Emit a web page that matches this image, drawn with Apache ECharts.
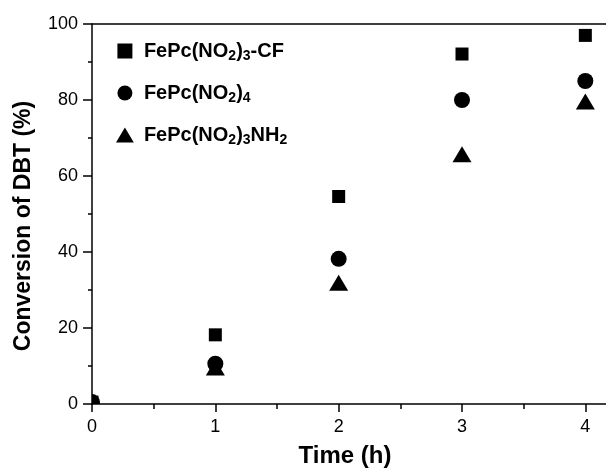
<!DOCTYPE html>
<html>
<head>
<meta charset="utf-8">
<script src="https://cdn.jsdelivr.net/npm/echarts@6/dist/echarts.min.js"></script>
<style>
html,body{margin:0;padding:0;background:#fff;}
#chart{width:606px;height:473px;}
</style>
</head>
<body>
<div id="chart"></div>
<script>
// ---- data ----
const times = [0, 1, 2, 3, 4];
const seriesNames = ['FePc(NO2)3-CF', 'FePc(NO2)4', 'FePc(NO2)3NH2'];
const cfValues = [0.5, 18.2, 54.6, 92.1, 97.0];
const no2Values = [0.5, 10.6, 38.2, 80.0, 85.0];
const nh2Values = [0.5, 9.5, 31.8, 65.6, 79.5];
const xTicks = [0, 1, 2, 3, 4];
const yTicks = [0, 20, 40, 60, 80, 100];

const legendRich = {
  'FePc(NO2)3-CF': 'FePc(NO{s|2}){s|3}-CF',
  'FePc(NO2)4': 'FePc(NO{s|2}){s|4}',
  'FePc(NO2)3NH2': 'FePc(NO{s|2}){s|3}NH{s|2}'
};

const FONT = "'Liberation Sans', Arial, sans-serif";
const X_MAX = 4.2;

function pairs(vals) { return times.map((t, i) => [t, vals[i]]); }

function makeRender(shape) {
  return function (params, api) {
    const p = api.coord([api.value(0), api.value(1)]);
    const style = { fill: '#000' };
    if (shape === 'square') {
      return { type: 'rect', shape: { x: p[0] - 6.5, y: p[1] - 6.5, width: 13, height: 13 }, style };
    } else if (shape === 'circle') {
      return { type: 'circle', shape: { cx: p[0], cy: p[1], r: 8 }, style };
    } else {
      return { type: 'polygon', shape: { points: [[p[0], p[1] - 8.5], [p[0] + 9.5, p[1] + 7.5], [p[0] - 9.5, p[1] + 7.5]] }, style };
    }
  };
}

const lineStyle = { color: '#000', width: 1.5 };

const chart = echarts.init(document.getElementById('chart'), null, { renderer: 'canvas' });
chart.setOption({
  animation: false,
  backgroundColor: '#fff',
  grid: { left: 92, top: 24, width: 518, height: 380, containLabel: false, outerBoundsMode: 'none' },
  legend: {
    orient: 'vertical',
    left: 111,
    top: 34,
    itemWidth: 28,
    itemHeight: 15,
    itemGap: 18,
    selectedMode: false,
    data: [
      { name: seriesNames[0], icon: 'path://M0,0h13v13h-13z' },
      { name: seriesNames[1], icon: 'circle' },
      { name: seriesNames[2], icon: 'path://M9.5,0L19,16L0,16Z' }
    ],
    itemStyle: { color: '#000' },
    formatter: function (name) { return legendRich[name]; },
    textStyle: {
      fontFamily: FONT, fontSize: 20, fontWeight: 'bold', color: '#000', lineHeight: 24,
      rich: {
        s: { fontFamily: FONT, fontSize: 14, fontWeight: 'bold', color: '#000', lineHeight: 10, verticalAlign: 'bottom' }
      }
    }
  },
  xAxis: [{
    type: 'value', min: 0, max: X_MAX, interval: 1,
    name: 'Time (h)', nameLocation: 'middle', nameGap: 40,
    nameTextStyle: { fontFamily: FONT, fontSize: 24, fontWeight: 'bold', color: '#000', padding: [0, 12, 0, 0] },
    axisLine: { show: true, onZero: false, lineStyle },
    axisTick: { show: true, inside: false, length: 8, lineStyle },
    axisLabel: {
      fontFamily: FONT, fontSize: 18, color: '#000', margin: 14, showMaxLabel: false,
      formatter: function (v) { return xTicks.indexOf(v) >= 0 ? String(v) : ''; }
    },
    splitLine: { show: false }
  }, {
    // half-step ticks along the bottom axis
    type: 'value', min: 0, max: X_MAX, interval: 0.5, position: 'bottom',
    axisLine: { show: false },
    axisTick: { show: true, inside: false, length: 5, lineStyle },
    axisLabel: { show: false }, splitLine: { show: false }
  }, {
    type: 'value', min: 0, max: X_MAX, position: 'top',
    axisLine: { show: true, onZero: false, lineStyle },
    axisTick: { show: false }, axisLabel: { show: false }, splitLine: { show: false }
  }],
  yAxis: {
    type: 'value', min: 0, max: 100, interval: 20,
    name: 'Conversion of DBT (%)', nameLocation: 'middle', nameGap: 57,
    nameTextStyle: { fontFamily: FONT, fontSize: 23, fontWeight: 'bold', color: '#000', padding: [0, 24, 0, 0] },
    axisLine: { show: true, onZero: false, lineStyle },
    axisTick: { show: true, inside: false, length: 9, lineStyle },
    minorTick: { show: true, splitNumber: 2, length: 4, lineStyle },
    axisLabel: {
      fontFamily: FONT, fontSize: 18, color: '#000', margin: 14,
      formatter: function (v) { return yTicks.indexOf(v) >= 0 ? String(v) : ''; }
    },
    splitLine: { show: false }
  },
  series: [
    { name: seriesNames[0], type: 'custom', clip: true, renderItem: makeRender('square'), data: pairs(cfValues), itemStyle: { color: '#000' }, z: 3 },
    { name: seriesNames[1], type: 'custom', clip: true, renderItem: makeRender('circle'), data: pairs(no2Values), itemStyle: { color: '#000' }, z: 3 },
    { name: seriesNames[2], type: 'custom', clip: true, renderItem: makeRender('triangle'), data: pairs(nh2Values), itemStyle: { color: '#000' }, z: 3 }
  ]
});
</script>
</body>
</html>
